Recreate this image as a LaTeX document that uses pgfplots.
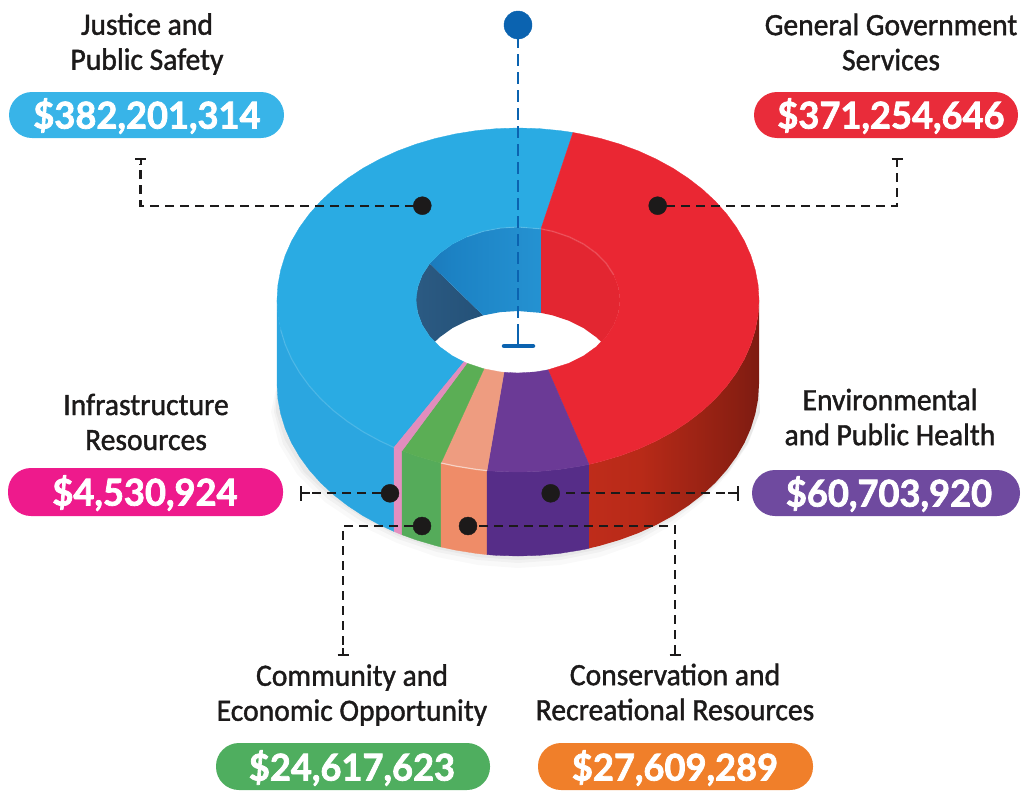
\documentclass[border=0pt]{standalone}
\usepackage{pgfplots}
\pgfplotsset{compat=1.18}
\usepackage{fontspec}
\setmainfont{Carlito}
\newfontfamily\lab[FakeBold=1.3,FakeStretch=0.955]{Carlito}
\newfontfamily\amt[BoldFeatures={FakeBold=2,FakeStretch=0.98}]{Lato}
\definecolor{bluetop}{HTML}{2AABE3}
\definecolor{blueside}{HTML}{2BA6E0}
\definecolor{redtop}{HTML}{EA2733}
\definecolor{purptop}{HTML}{6B3A96}
\definecolor{purpside}{HTML}{562D88}
\definecolor{orantop}{HTML}{EE9C80}
\definecolor{oranside}{HTML}{EF8C68}
\definecolor{greentop}{HTML}{5BAE55}
\definecolor{greenside}{HTML}{55AB5A}
\definecolor{pinktop}{HTML}{E28DBD}
\definecolor{pinkside}{HTML}{E48FC0}
\definecolor{navy}{HTML}{0B63B0}
\definecolor{pA}{HTML}{38B4E8}
\definecolor{pB}{HTML}{E92C3A}
\definecolor{pC}{HTML}{EE1A8C}
\definecolor{pD}{HTML}{6F4A9F}
\definecolor{pE}{HTML}{4FAE5F}
\definecolor{pF}{HTML}{F07F2A}
\definecolor{ink}{HTML}{1C1A1A}
\definecolor{rs1}{HTML}{C9301F}
\definecolor{rs2}{HTML}{B82A18}
\definecolor{rs3}{HTML}{8B1F12}
\definecolor{rs4}{HTML}{641410}
\definecolor{rs5}{HTML}{7A1A14}
\definecolor{bw1}{HTML}{1A68A8}
\definecolor{bw2}{HTML}{1C82C4}
\definecolor{bw3}{HTML}{2A9CDA}
\definecolor{nw1}{HTML}{2F5F88}
\definecolor{nw2}{HTML}{204C72}
\pgfdeclarehorizontalshading{redside}{100bp}{color(0bp)=(rs1);color(40bp)=(rs2);color(68bp)=(rs3);color(88bp)=(rs4);color(100bp)=(rs5)}
\pgfdeclarehorizontalshading{bluewall}{100bp}{color(0bp)=(bw1);color(35bp)=(bw2);color(100bp)=(bw3)}
\pgfdeclarehorizontalshading{navywall}{100bp}{color(0bp)=(nw1);color(100bp)=(nw2)}
\tikzset{
  lbl/.style={font=\lab\fontsize{31}{35}\selectfont, align=center, text=ink, inner sep=0pt},
  amtn/.style={font=\amt\bfseries\fontsize{37}{40}\selectfont, text=white, inner sep=0pt},
  dashl/.style={draw=ink, line width=2.2pt, dash pattern=on 9pt off 6pt},
  capl/.style={draw=ink, line width=2pt}
}
\begin{document}
\begin{tikzpicture}
\begin{axis}[
  width=1022pt, height=790pt, scale only axis,
  xmin=0, xmax=1022, ymin=0, ymax=790, y dir=reverse,
  hide axis, clip=false, no markers
]
\path (axis cs:0,0) rectangle (axis cs:1022,790);
% soft shadow under the ring
\addplot[fill=black, fill opacity=.025, draw=none] coordinates {(277,384)(271,412)(279,444)(297,474)(325,502)(359,525)(397,543)(437,557)(478,565)(518,568)(560,565)(600,557)(640,543)(672,525)(702,502)(728,474)(748,444)(760,412)(759,384)} --cycle;
\addplot[fill=black, fill opacity=.03, draw=none] coordinates {(277,384)(274,412)(283,444)(301,472)(328,499)(361,521)(398,539)(437,552)(478,560)(518,563)(560,560)(600,552)(640,539)(672,521)(702,499)(728,472)(748,444)(760,412)(759,384)} --cycle;
\addplot[fill=black, fill opacity=.04, draw=none] coordinates {(277,384)(276,412)(285,440)(304,472)(331,497)(363,518)(398,536)(437,549)(478,557)(518,560)(560,557)(600,549)(640,536)(672,518)(702,497)(728,472)(748,442)(760,412)(759,384)} --cycle;
% sides
\addplot[fill=blueside, draw=blueside, line width=.3pt] coordinates {(277,300)(277.9,315)(280.7,329.9)(285.2,344.5)(291.5,358.8)(299.6,372.7)(309.3,386)(320.6,398.7)(333.4,410.6)(347.6,421.6)(363.1,431.8)(379.8,440.9)(394,447.5)(394,531.5)(379.8,524.9)(363.1,515.8)(347.6,505.6)(333.4,494.6)(320.6,482.7)(309.3,470)(299.6,456.7)(291.5,442.8)(285.2,428.5)(280.7,413.9)(277.9,399)(277,384)} --cycle;
\addplot[fill=pinkside, draw=pinkside, line width=.3pt] coordinates {(394,447.5)(402,450.8)(402,534.8)(394,531.5)} --cycle;
\addplot[fill=greenside, draw=greenside, line width=.3pt] coordinates {(402,450.8)(416.2,455.9)(435.6,461.6)(441,463)(441,547)(435.6,545.6)(416.2,539.9)(402,534.8)} --cycle;
\addplot[fill=oranside, draw=oranside, line width=.3pt] coordinates {(441,463)(455.6,466.1)(476.2,469.4)(487,470.6)(487,554.6)(476.2,553.4)(455.6,550.1)(441,547)} --cycle;
\addplot[fill=purpside, draw=purpside, line width=.3pt] coordinates {(487,470.6)(497,471.4)(518,472)(539,471.4)(559.8,469.4)(580.4,466.1)(589,464.4)(589,548.4)(580.4,550.1)(559.8,553.4)(539,555.4)(518,556)(497,555.4)(487,554.6)} --cycle;
\addplot[shade, shading=redside, draw=none] coordinates {(589,464.4)(600.4,461.6)(619.8,455.9)(638.5,449)(656.2,440.9)(672.9,431.8)(688.4,421.6)(702.6,410.6)(715.4,398.7)(726.7,386)(736.4,372.7)(744.5,358.8)(750.8,344.5)(755.3,329.9)(758.1,315)(759,300)(759,384)(758.1,399)(755.3,413.9)(750.8,428.5)(744.5,442.8)(736.4,456.7)(726.7,470)(715.4,482.7)(702.6,494.6)(688.4,505.6)(672.9,515.8)(656.2,524.9)(638.5,533)(619.8,539.9)(600.4,545.6)(589,548.4)} --cycle;
% inner wall
\addplot[shade, shading=navywall, draw=none] coordinates {(434.6,342)(429.7,336.5)(422.2,325)(417.6,312.7)(416,300)(417.6,287.3)(422.2,275)(429.7,263.5)(483.1,315.4)(467,320.8)(452.4,328.1)(439.9,337.1)} --cycle;
\addplot[shade, shading=bluewall, draw=none] coordinates {(429.7,263.5)(439.9,253.1)(452.4,244.1)(467,236.8)(483.1,231.4)(500.3,228.1)(518,227)(541,228.9)(541,312.9)(518,311)(500.3,312.1)(483.1,315.4)} --cycle;
\addplot[fill=redtop!97!black, draw=none] coordinates {(541,228.9)(552.9,231.4)(569,236.8)(583.6,244.1)(596.1,253.1)(606.3,263.5)(613.8,275)(618.4,287.3)(620,300)(618.4,312.7)(613.8,325)(606.3,336.5)(601.4,342)(596.1,337.1)(583.6,328.1)(569,320.8)(552.9,315.4)(541,312.9)} --cycle;
% top faces
\addplot[fill=bluetop, draw=bluetop, line width=.3pt] coordinates {(394,447.5)(379.8,440.9)(363.1,431.8)(347.6,421.6)(333.4,410.6)(320.6,398.7)(309.3,386)(299.6,372.7)(291.5,358.8)(285.2,344.5)(280.7,329.9)(277.9,315)(277,300)(277.9,285)(280.7,270.1)(285.2,255.5)(291.5,241.2)(299.6,227.3)(309.3,214)(320.6,201.3)(333.4,189.4)(347.6,178.4)(363.1,168.2)(379.8,159.1)(397.5,151)(416.2,144.1)(435.6,138.4)(455.6,133.9)(476.2,130.6)(497,128.6)(518,128)(539,128.6)(559.8,130.6)(573,132.5)(541,228.9)(518,227)(500.3,228.1)(483.1,231.4)(467,236.8)(452.4,244.1)(439.9,253.1)(429.7,263.5)(422.2,275)(417.6,287.3)(416,300)(417.6,312.7)(422.2,325)(429.7,336.5)(439.9,346.9)(452.4,355.9)(464,361.9)} --cycle;
\addplot[fill=redtop, draw=redtop, line width=.3pt] coordinates {(573,132.5)(580.4,133.9)(600.4,138.4)(619.8,144.1)(638.5,151)(656.2,159.1)(672.9,168.2)(688.4,178.4)(702.6,189.4)(715.4,201.3)(726.7,214)(736.4,227.3)(744.5,241.2)(750.8,255.5)(755.3,270.1)(758.1,285)(759,300)(758.1,315)(755.3,329.9)(750.8,344.5)(744.5,358.8)(736.4,372.7)(726.7,386)(715.4,398.7)(702.6,410.6)(688.4,421.6)(672.9,431.8)(656.2,440.9)(638.5,449)(619.8,455.9)(600.4,461.6)(589,464.4)(548,369.8)(569,363.2)(583.6,355.9)(596.1,346.9)(606.3,336.5)(613.8,325)(618.4,312.7)(620,300)(618.4,287.3)(613.8,275)(606.3,263.5)(596.1,253.1)(583.6,244.1)(569,236.8)(552.9,231.4)(541,228.9)} --cycle;
\addplot[fill=purptop, draw=purptop, line width=.3pt] coordinates {(589,464.4)(580.4,466.1)(559.8,469.4)(539,471.4)(518,472)(497,471.4)(487,470.6)(504,372.3)(518,373)(535.7,371.9)(548,369.8)} --cycle;
\addplot[fill=orantop, draw=orantop, line width=.3pt] coordinates {(487,470.6)(476.2,469.4)(455.6,466.1)(441,463)(484,368.8)(500.3,371.9)(504,372.3)} --cycle;
\addplot[fill=greentop, draw=greentop, line width=.3pt] coordinates {(441,463)(435.6,461.6)(416.2,455.9)(402,450.8)(467,363.2)(483.1,368.6)(484,368.8)} --cycle;
\addplot[fill=pinktop, draw=pinktop, line width=.3pt] coordinates {(402,450.8)(394,447.5)(464,361.9)(467,363.2)} --cycle;
% rim highlights
\addplot[draw=white, draw opacity=.14, line width=1.2pt] coordinates {(280.7,329.9)(285.2,344.5)(291.5,358.8)(299.6,372.7)(309.3,386)(320.6,398.7)(333.4,410.6)(347.6,421.6)(363.1,431.8)(379.8,440.9)(394,447.5)};
\addplot[draw=white, draw opacity=.55, line width=1.2pt] coordinates {(441,463)(455.6,466.1)(476.2,469.4)(487,470.6)};
\addplot[draw=white, draw opacity=.14, line width=1.5pt] coordinates {(541,228.9)(552.9,231.4)(569,236.8)(583.6,244.1)(596.1,253.1)(606.3,263.5)(613.8,275)};
\addplot[draw=white, draw opacity=.12, line width=1.2pt] coordinates {(467,236.8)(483.1,231.4)(500.3,228.1)(518,227)(541,228.9)};
% centre leader
\addplot[draw=navy, line width=2.6pt, dash pattern=on 12pt off 6pt] coordinates {(518,36)(518,340)};
\addplot[draw=navy, line width=2.6pt] coordinates {(518,333)(518,346)};
\addplot[draw=navy, line width=4.5pt, line cap=round] coordinates {(504,346)(533,346)};
\addplot[only marks, mark=*, mark size=14pt, mark options={fill=navy, draw=navy}] coordinates {(518,25)};
% leaders
\addplot[dashl] coordinates {(414,205.7)(140.5,205.7)(140.5,164)};
\addplot[capl] coordinates {(135,159)(146,159)};
\addplot[capl] coordinates {(140.5,159)(140.5,165)};
\addplot[dashl] coordinates {(666,205.7)(897,205.7)(897,164)};
\addplot[capl] coordinates {(891.5,159)(902.5,159)};
\addplot[capl] coordinates {(897,159)(897,165)};
\addplot[dashl] coordinates {(381,493.3)(306,493.3)};
\addplot[capl] coordinates {(300.5,493.3)(310,493.3)};
\addplot[capl] coordinates {(300.5,486)(300.5,500.5)};
\addplot[dashl] coordinates {(566,493.3)(732,493.3)};
\addplot[capl] coordinates {(728,493.3)(738,493.3)};
\addplot[capl] coordinates {(738,486)(738,500.5)};
\addplot[dashl] coordinates {(413,526)(343,526)(343,648)};
\addplot[capl] coordinates {(343,648)(343,655)};
\addplot[capl] coordinates {(337.5,655)(348.5,655)};
\addplot[dashl] coordinates {(479,526)(675,526)(675,648)};
\addplot[capl] coordinates {(675,648)(675,655)};
\addplot[capl] coordinates {(669.5,655)(680.5,655)};
% dots
\addplot[only marks, mark=*, mark size=9pt, mark options={fill=ink, draw=ink}] coordinates {(422.3,205.7)(657.7,205.7)(390,493.3)(422,526)(468,526)(550.7,493.3)};
% pills
\fill[pA, rounded corners=23pt] (axis cs:9,92) rectangle (axis cs:284,138);
\fill[pB, rounded corners=23pt] (axis cs:754,92) rectangle (axis cs:1018,138);
\fill[pC, rounded corners=23pt] (axis cs:8,468) rectangle (axis cs:283,516);
\fill[pD, rounded corners=23pt] (axis cs:752,470) rectangle (axis cs:1020,516);
\fill[pE, rounded corners=23pt] (axis cs:216,743) rectangle (axis cs:490,790);
\fill[pF, rounded corners=23pt] (axis cs:538,743) rectangle (axis cs:813,790);
\node[amtn] at (axis cs:147,116) {\$382,201,314};
\node[amtn] at (axis cs:891,116) {\$371,254,646};
\node[amtn] at (axis cs:145,493) {\$4,530,924};
\node[amtn] at (axis cs:889,494) {\$60,703,920};
\node[amtn] at (axis cs:352,768) {\$24,617,623};
\node[amtn] at (axis cs:675,768) {\$27,609,289};
\node[lbl] at (axis cs:147,44) {Justice and\\Public Safety};
\node[lbl] at (axis cs:891,42) {General Government\\Services};
\node[lbl] at (axis cs:146,422) {Infrastructure\\Resources};
\node[lbl] at (axis cs:890,417) {Environmental\\and Public Health};
\node[lbl] at (axis cs:352,695) {Community and\\Economic Opportunity};
\node[lbl] at (axis cs:675,692) {Conservation and\\Recreational Resources};
\end{axis}
\end{tikzpicture}
\end{document}
